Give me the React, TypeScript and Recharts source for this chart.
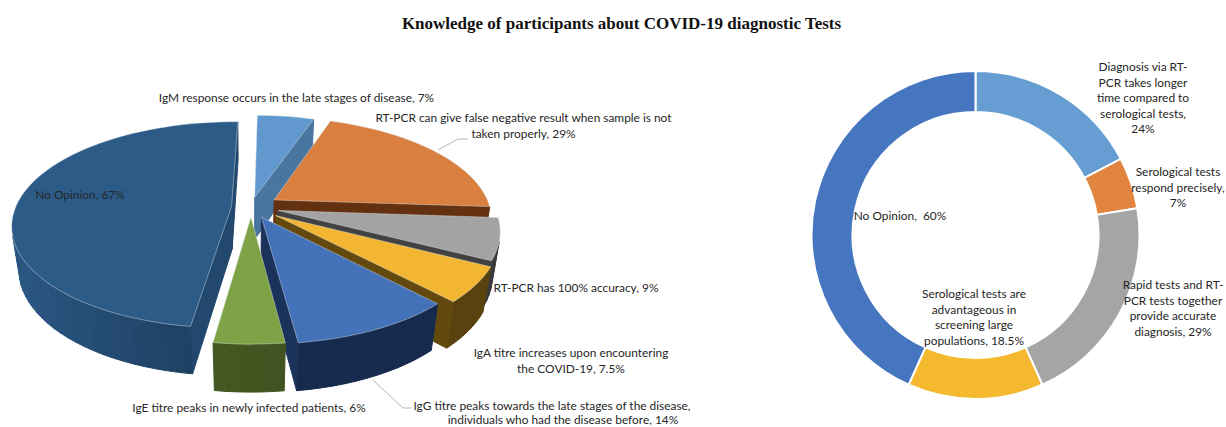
import React from "react";
import { PieChart, Pie } from "recharts";

// left pie: knowledge items
const testCategories = [
  "IgM response occurs in the late stages of disease",
  "RT-PCR can give false negative result when sample is not taken properly",
  "RT-PCR has 100% accuracy",
  "IgA titre increases upon encountering the COVID-19",
  "IgG titre peaks towards the late stages of the disease, individuals who had the disease before",
  "IgE titre peaks in newly infected patients",
  "No Opinion",
];
const testValues = [7, 29, 9, 7.5, 14, 6, 67];
const testLabels = [
  ["IgM response occurs in the late stages of disease, 7%"],
  ["RT-PCR can give false negative result when sample is not", "taken properly, 29%"],
  ["RT-PCR has 100% accuracy, 9%"],
  ["IgA titre increases upon encountering", "the COVID-19, 7.5%"],
  ["IgG titre peaks towards the late stages of the disease,", "individuals who had the disease before, 14%"],
  ["IgE titre peaks in newly infected patients, 6%"],
  ["No Opinion, 67%"],
];

// right donut: statements
const statementCategories = [
  "Diagnosis via RT-PCR takes longer time compared to serological tests",
  "Serological tests respond precisely",
  "Rapid tests and RT-PCR tests together provide accurate diagnosis",
  "Serological tests are advantageous in screening large populations",
  "No Opinion",
];
const statementValues = [24, 7, 29, 18.5, 60];
const statementLabels = [
  ["Diagnosis via RT-", "PCR takes longer", "time compared to", "serological tests,", "24%"],
  ["Serological tests", "respond precisely,", "7%"],
  ["Rapid tests and RT-", "PCR tests together", "provide accurate", "diagnosis, 29%"],
  ["Serological tests are", "advantageous in", "screening large", "populations, 18.5%"],
  ["No Opinion,  60%"],
];

// styling, same order as the series
const testColors = ["#6199cf", "#d97f3f", "#a3a3a3", "#f2b632", "#4472b8", "#7ea346", "#2c5b88"];
const testWallLight = ["#4a78a2", "#6a3512", "#484848", "#6a4e10", "#1e3764", "#4f6a28", "#2a5682"];
const testWallDark = ["#46729a", "#5a2c0e", "#3a3a3a", "#5a420e", "#162a4e", "#3f5220", "#18344f"];
const testExplode = [0.1, 0.13, 0.13, 0.14, 0.11, 0.1, 0.09];
const statementColors = ["#669dd2", "#e0843f", "#a5a5a5", "#f5b930", "#4676c0"];

const testLabelPos = [
  { x: 296.5, y: 98 },
  { x: 523.5, y: 118 },
  { x: 576, y: 288 },
  { x: 571, y: 353 },
  { x: 552, y: 406 },
  { x: 249, y: 408 },
  { x: 80, y: 195 },
];
const statementLabelPos = [
  { x: 1143, y: 67 },
  { x: 1178, y: 172 },
  { x: 1173, y: 285 },
  { x: 974, y: 294 },
  { x: 900, y: 216 },
];
const leaders: Record<number, string> = {
  1: "438,150 458,139 468,139",
  4: "373,380 403,408 411,408",
};

const PIE = { cx: 251, cy: 207, rx: 216, ry: 100, depth: 44, persp: 0.18, shrink: 0.03 };
const LABEL_FONT = "Lato, 'Open Sans', sans-serif";

const testData = testCategories.map((name, i) => ({ name, value: testValues[i], fill: testColors[i] }));
const statementData = statementCategories.map((name, i) => ({
  name,
  value: statementValues[i],
  fill: statementColors[i],
}));

function project(X: number, Y: number, Z: number) {
  const s = 1 / (1 - PIE.persp * Y + PIE.shrink * Z);
  return [PIE.cx + PIE.rx * X * s, PIE.cy + (PIE.ry * Y + PIE.depth * Z) * s];
}

function mixColor(a: string, b: string, t: number) {
  const ch = (c: string, i: number) => parseInt(c.slice(1 + i * 2, 3 + i * 2), 16);
  const out = [0, 1, 2].map((i) => Math.round(ch(a, i) + (ch(b, i) - ch(a, i)) * t));
  return `rgb(${out.join(",")})`;
}

const pts = (list: number[][]) => list.map((p) => `${p[0].toFixed(1)},${p[1].toFixed(1)}`).join(" ");

function area(list: number[][]) {
  let sum = 0;
  list.forEach((p, i) => {
    const q = list[(i + 1) % list.length];
    sum += p[0] * q[1] - q[0] * p[1];
  });
  return sum;
}

// exploded slice with a perspective top face and extruded walls
function Slice3D(props: any) {
  const idx = testCategories.indexOf(props.name ?? props.payload?.name);
  const from = ((90 - props.startAngle) * Math.PI) / 180;
  const to = ((90 - props.endAngle) * Math.PI) / 180;
  const mid = (from + to) / 2;
  const e = testExplode[idx];
  const ox = e * Math.sin(mid);
  const oy = -e * Math.cos(mid);

  const steps = Math.max(4, Math.ceil((to - from) / 0.05));
  const outline: number[][] = [[ox, oy]];
  for (let i = 0; i <= steps; i++) {
    const t = from + ((to - from) * i) / steps;
    outline.push([ox + Math.sin(t), oy - Math.cos(t)]);
  }

  const walls: React.ReactNode[] = [];
  outline.forEach((a, i) => {
    const b = outline[(i + 1) % outline.length];
    const quad = [project(a[0], a[1], 0), project(b[0], b[1], 0), project(b[0], b[1], 1), project(a[0], a[1], 1)];
    if (area(quad) >= 0) return;
    const rim = i > 0 && i < outline.length - 1;
    const shade = rim ? Math.min(1, Math.max(0, (quad[0][0] - 20) / 280)) : 0.4;
    const fill = mixColor(testWallLight[idx], testWallDark[idx], shade);
    walls.push(<polygon key={i} points={pts(quad)} fill={fill} stroke={fill} strokeWidth={1} />);
  });

  const top = outline.map((p) => project(p[0], p[1], 0));
  return (
    <g>
      {walls}
      <polygon points={pts(top)} fill={testColors[idx]} stroke="#dfe6ee" strokeWidth={0.6} strokeOpacity={0.7} />
    </g>
  );
}

function Lines({ x, y, lines, dx = 0, pitch = 15.6 }: { x: number; y: number; lines: string[]; dx?: number; pitch?: number }) {
  return (
    <text
      x={x}
      y={y}
      textAnchor="middle"
      fontFamily={LABEL_FONT}
      fontSize={11.9}
      fill="#262626"
      style={{ whiteSpace: "pre" }}
    >
      {lines.map((l, i) => (
        <tspan key={i} x={x + (i > 0 ? dx : 0)} y={y + 4 + i * pitch}>
          {l}
        </tspan>
      ))}
    </text>
  );
}

function testLabel(props: any) {
  const i = props.index;
  // the IgG label sits against the bottom edge, second line is pushed right
  const tight = i === 4;
  return (
    <g key={i}>
      {leaders[i] && <polyline points={leaders[i]} fill="none" stroke="#b5b5b5" strokeWidth={1} />}
      <Lines
        x={testLabelPos[i].x}
        y={testLabelPos[i].y}
        lines={testLabels[i]}
        dx={tight ? 11 : 0}
        pitch={tight ? 14 : 15.6}
      />
    </g>
  );
}

function statementLabel(props: any) {
  const i = props.index;
  return <Lines key={i} x={statementLabelPos[i].x} y={statementLabelPos[i].y} lines={statementLabels[i]} />;
}

export default function App() {
  return (
    <div style={{ position: "absolute", left: 0, top: 0, width: 1226, height: 427, background: "#fff" }}>
      <PieChart width={1226} height={427} margin={{ top: 0, right: 0, bottom: 0, left: 0 }}>
        <text
          x={621.5}
          y={29}
          textAnchor="middle"
          fontFamily="'Liberation Serif', serif"
          fontWeight="bold"
          fontSize={17}
          fill="#111"
        >
          Knowledge of participants about COVID-19 diagnostic Tests
        </text>
        <Pie
          data={testData}
          dataKey="value"
          nameKey="name"
          cx={251}
          cy={207}
          outerRadius={100}
          startAngle={89}
          endAngle={-271}
          stroke="none"
          shape={Slice3D}
          label={testLabel}
          labelLine={false}
          isAnimationActive={false}
        />
        <Pie
          data={statementData}
          dataKey="value"
          nameKey="name"
          cx={975.5}
          cy={235}
          innerRadius={123}
          outerRadius={164}
          startAngle={90}
          endAngle={-270}
          stroke="#fff"
          strokeWidth={2}
          label={statementLabel}
          labelLine={false}
          isAnimationActive={false}
        />
      </PieChart>
    </div>
  );
}
